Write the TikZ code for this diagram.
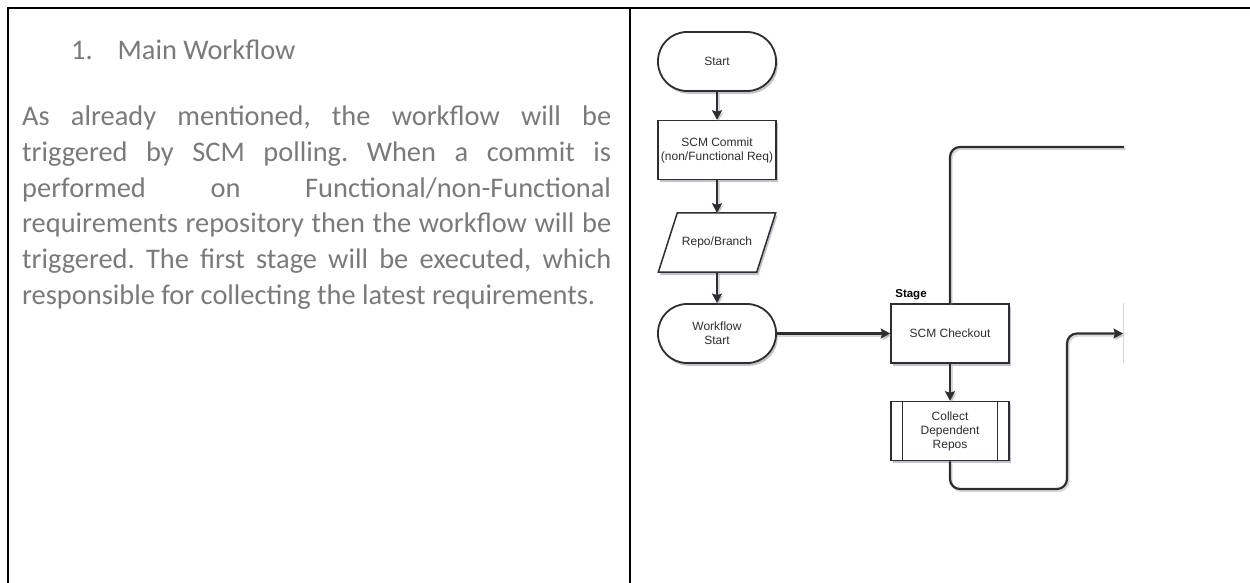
\documentclass[tikz,border=0pt]{standalone}
\usepackage{fontspec}
\setmainfont{Carlito}
\newfontfamily\chartfont{Liberation Sans}
\usetikzlibrary{arrows.meta,shadows}

\definecolor{bodygray}{HTML}{7A7A7A}
\definecolor{ink}{HTML}{2E2E2E}
\definecolor{shade}{HTML}{8A90A8}

\begin{document}
\frenchspacing
\begin{tikzpicture}[x=1pt,y=-1pt,
  body/.style={anchor=base west, inner sep=0pt, text=bodygray,
    font=\fontsize{28.4}{35.6}\selectfont},
  rule/.style={line width=2pt, black},
  chart/.style={font=\chartfont\fontsize{12}{14}\selectfont, text=ink},
  softshadow/.style={drop shadow={shadow xshift=1.8pt, shadow yshift=-2.8pt,
    fill=shade, opacity=0.55}},
  box/.style={chart, draw=ink, line width=1.5pt, fill=white,
    minimum width=118pt, minimum height=59pt, inner sep=1pt, align=center,
    softshadow},
  term/.style={box, line width=1.8pt, rounded corners=29pt},
  slot/.style={chart, minimum width=117pt, minimum height=59pt, inner sep=0pt},
  wire/.style={draw=ink, line width=2.2pt, rounded corners=10pt,
    preaction={draw=shade, opacity=0.35, line width=2.2pt,
      transform canvas={xshift=1.5pt, yshift=-2pt}}},
  flow/.style={wire, -{Stealth[length=9.5pt,width=10pt,inset=1.5pt]}}
]
\useasboundingbox (0,0) rectangle (1250,583);

% table rules
\draw[rule] (7,8) -- (1250,8);
\draw[rule] (8,8) -- (8,583);
\draw[rule] (630,8) -- (630,583);

% left cell: heading and paragraph
\node[body] (num) at (71,59.3) {1.};
\node[body] (head) at (117.5,59.3) {Main Workflow};
\node[body] (l1) at (22,126) {\makebox[589pt][s]{As already mentioned, the workflow will be}};
\node[body] (l2) at (22,161.6) {\makebox[589pt][s]{triggered by SCM polling. When a commit is}};
\node[body] (l3) at (22,197.2) {\makebox[589pt][s]{performed on Functional/non-Functional}};
\node[body] (l4) at (22,232.8) {\makebox[589pt][s]{requirements repository then the workflow will be}};
\node[body] (l5) at (22,268.4) {\makebox[589pt][s]{triggered. The first stage will be executed, which}};
\node[body] (l6) at (22,304) {responsible for collecting the latest requirements.};

% right cell: flowchart
\node[term] (start) at (717,61.5) {Start};
\node[box] (commit) at (717,150) {SCM Commit\\(non/Functional Req)};
\node[slot] (repo) at (717,242.5) {};
\draw[draw=ink, line width=1.5pt, fill=white, softshadow]
  ([xshift=19pt]repo.north west) -- (repo.north east)
  -- ([xshift=-19pt]repo.south east) -- (repo.south west) -- cycle;
\node[chart] (repolabel) at (repo.center) {Repo/Branch};
\node[term] (wstart) at (717,333.5) {Workflow\\Start};
\node[box] (checkout) at (950,333.5) {SCM Checkout};
\node[chart, font=\chartfont\bfseries\fontsize{11.5}{13}\selectfont, text=black]
  (stage) at (911,295) {Stage};
\node[box] (collect) at (950,431) {Collect\\Dependent\\Repos};
\draw[draw=ink, line width=1.1pt]
  ([xshift=12pt]collect.north west) -- ([xshift=12pt]collect.south west)
  ([xshift=-12pt]collect.north east) -- ([xshift=-12pt]collect.south east);

% open ends at the edge of the chart
\coordinate (nextin) at (1123,333.5);
\coordinate (nextout) at (1124,147);
\coordinate (edgetop) at (1123,303);
\coordinate (edgebot) at (1123,363);
\draw[line width=1pt, black!15] (edgetop) -- (edgebot);

% connectors
\draw[flow] (start) -- (commit);
\draw[flow] (commit) -- (repo.north);
\draw[flow] (repo.south) -- (wstart);
\draw[flow] (wstart) -- (checkout);
\draw[flow] (checkout) -- (collect);
\draw[flow] (collect.south) -- (950,489) -- (1067,489) -- (1067,333.5) -- (nextin);
\draw[wire] (checkout.north) |- (nextout);
\end{tikzpicture}
\end{document}
